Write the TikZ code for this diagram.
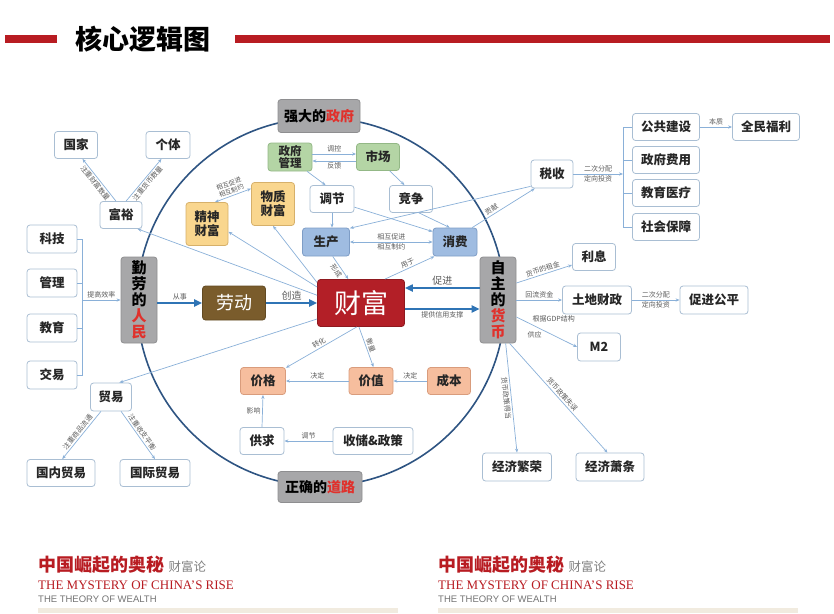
\documentclass[tikz,border=0pt]{standalone}
\usepackage{fontspec}
\setmainfont{Liberation Serif}
\newfontfamily\cjk{Noto Sans CJK SC}
\newfontfamily\lgsans{Liberation Sans}
\usetikzlibrary{arrows.meta,calc}

\definecolor{lgred}{HTML}{B81C22}
\definecolor{lgpink}{HTML}{E0312C}
\definecolor{lgringc}{HTML}{2E5482}
\definecolor{lggrayf}{HTML}{A7A7A9}
\definecolor{lggrayd}{HTML}{8E8E90}
\definecolor{lggreenf}{HTML}{B4D5A5}
\definecolor{lggreend}{HTML}{93B886}
\definecolor{lgbluef}{HTML}{9FBCE1}
\definecolor{lgblued}{HTML}{7E9DC6}
\definecolor{lgyellowf}{HTML}{F9D68E}
\definecolor{lgyellowd}{HTML}{D6B06A}
\definecolor{lgsalmonf}{HTML}{F6BE9E}
\definecolor{lgsalmond}{HTML}{D99C7C}
\definecolor{lgwealth}{HTML}{B31F27}
\definecolor{lgbrown}{HTML}{7A5C2C}
\definecolor{lgedge}{HTML}{A9BED3}
\definecolor{lgthin}{HTML}{8AB0D8}
\definecolor{lgthickc}{HTML}{2F74B5}
\definecolor{lgtextc}{HTML}{5A5A5A}
\definecolor{lgbeige}{HTML}{F1EBDF}

\tikzset{
  lgbox/.style={rounded corners=3pt, line width=0.8pt, align=center, inner sep=1pt,
    font=\cjk\bfseries\fontsize{12.5}{14}\selectfont, text=black!85},
  lgwh/.style 2 args={minimum width=#1, minimum height=#2},
  lgwhite/.style={lgbox, draw=lgedge, fill=white},
  lggray/.style={lgbox, draw=lggrayd, fill=lggrayf, text=black,
    font=\cjk\bfseries\fontsize{14}{16}\selectfont},
  lggreen/.style={lgbox, draw=lggreend, fill=lggreenf},
  lgblue/.style={lgbox, draw=lgblued, fill=lgbluef},
  lgyellow/.style={lgbox, draw=lgyellowd, fill=lgyellowf},
  lgsalmon/.style={lgbox, draw=lgsalmond, fill=lgsalmonf},
  lgring/.style={draw=lgringc, line width=1.6pt},
  lgline/.style={draw=lgthin, line width=0.7pt},
  lgarrow/.style={lgline, -{Stealth[length=4pt,width=3.2pt]}},
  lgthick/.style={draw=lgthickc, line width=2.2pt, -{Triangle[length=8pt,width=7pt]}},
  lgtag/.style={font=\cjk\fontsize{7}{8}\selectfont, text=lgtextc, inner sep=1.5pt},
  lgbig/.style={font=\cjk\fontsize{10}{11}\selectfont, text=lgtextc, inner sep=2pt},
}

\begin{document}
\begin{tikzpicture}[x=1pt,y=-1pt]
\useasboundingbox (0,0) rectangle (834,613);

% header
\fill[lgred] (5,35) rectangle (57,43);
\fill[lgred] (235,35) rectangle (830,43);
\node[font=\cjk\bfseries\fontsize{27}{27}\selectfont] (title) at (143,39) {核心逻辑图};

% ring behind the four pillars
\draw[lgring] (321,302) circle (184);

% pillars
\node[lggray, lgwh={82}{33}] (gov) at (319,116) {强大的\textcolor{lgpink}{政府}};
\node[lggray, lgwh={84}{31}] (road) at (320,487) {正确的\textcolor{lgpink}{道路}};
\node[lggray, lgwh={36}{86}, font=\cjk\bfseries\fontsize{15}{16}\selectfont] (people) at (139,300)
  {勤\\劳\\的\\\textcolor{lgpink}{人}\\\textcolor{lgpink}{民}};
\node[lggray, lgwh={36}{86}, font=\cjk\bfseries\fontsize{15}{16}\selectfont] (money) at (498,300)
  {自\\主\\的\\\textcolor{lgpink}{货}\\\textcolor{lgpink}{币}};

% centre
\node[lgbox, draw=lgwealth!80!black, fill=lgwealth, text=white, lgwh={87}{47},
  font=\cjk\fontsize{27}{27}\selectfont] (wealth) at (361,303) {财富};
\node[lgbox, draw=lgbrown!80!black, fill=lgbrown, text=white, lgwh={63}{34},
  font=\cjk\fontsize{18}{18}\selectfont] (labor) at (234,303) {劳动};

% inside the ring, top
\node[lggreen, lgwh={44}{28}, font=\cjk\bfseries\fontsize{11.5}{12.5}\selectfont] (govm) at (290,157) {政府\\管理};
\node[lggreen, lgwh={43}{27}] (mkt) at (378,157) {市场};
\node[lgwhite, lgwh={44}{27}] (adj) at (332,199) {调节};
\node[lgwhite, lgwh={43}{27}] (comp) at (411,199) {竞争};
\node[lgyellow, lgwh={43}{43}] (mat) at (273,204) {物质\\财富};
\node[lgyellow, lgwh={42}{43}] (spi) at (207,224) {精神\\财富};
\node[lgblue, lgwh={47}{28}] (prod) at (326,242) {生产};
\node[lgblue, lgwh={44}{28}] (cons) at (455,242) {消费};

% inside the ring, bottom
\node[lgsalmon, lgwh={45}{27}] (price) at (263,381) {价格};
\node[lgsalmon, lgwh={44}{27}] (value) at (371,381) {价值};
\node[lgsalmon, lgwh={43}{27}] (cost) at (449,381) {成本};
\node[lgwhite, lgwh={44}{27}] (supply) at (262,441) {供求};
\node[lgwhite, lgwh={80}{27}] (store) at (373,441) {收储\&政策};

% left side
\node[lgwhite, lgwh={50}{28}] (tech) at (52,239) {科技};
\node[lgwhite, lgwh={50}{28}] (mgmt) at (52,283) {管理};
\node[lgwhite, lgwh={50}{28}] (edu) at (52,328) {教育};
\node[lgwhite, lgwh={50}{28}] (trade) at (52,375) {交易};
\node[lgwhite, lgwh={42}{27}] (rich) at (121,215) {富裕};
\node[lgwhite, lgwh={43}{27}] (nation) at (76,145) {国家};
\node[lgwhite, lgwh={44}{27}] (indiv) at (168,145) {个体};
\node[lgwhite, lgwh={41}{28}] (trad) at (111,397) {贸易};
\node[lgwhite, lgwh={68}{27}] (dom) at (61,473) {国内贸易};
\node[lgwhite, lgwh={70}{27}] (intl) at (155,473) {国际贸易};

% right side
\node[lgwhite, lgwh={42}{28}] (tax) at (552,174) {税收};
\node[lgwhite, lgwh={67}{27}] (pub) at (666,127) {公共建设};
\node[lgwhite, lgwh={67}{27}] (govexp) at (666,160) {政府费用};
\node[lgwhite, lgwh={67}{27}] (edumed) at (666,193) {教育医疗};
\node[lgwhite, lgwh={67}{27}] (social) at (666,227) {社会保障};
\node[lgwhite, lgwh={67}{27}] (welfare) at (766,127) {全民福利};
\node[lgwhite, lgwh={43}{27}] (interest) at (594,257) {利息};
\node[lgwhite, lgwh={69}{28}] (land) at (597,300) {土地财政};
\node[lgwhite, lgwh={68}{28}] (fair) at (714,300) {促进公平};
\node[lgwhite, lgwh={43}{28}] (mtwo) at (599,347) {M2};
\node[lgwhite, lgwh={69}{28}] (boom) at (517,467) {经济繁荣};
\node[lgwhite, lgwh={68}{28}] (slump) at (610,467) {经济萧条};

% government and market
\draw[lgarrow] ([yshift=3]govm.east) -- ([yshift=3]govm.east -| mkt.west) node[lgtag, midway, above] {调控};
\draw[lgarrow] ([yshift=-4]mkt.west) -- ([yshift=-4]mkt.west -| govm.east) node[lgtag, midway, below] {反馈};
\draw[lgarrow] (govm.-40) -- (adj.115);
\draw[lgarrow] (mkt.-50) -- (comp.115);
\draw[lgarrow] (adj.south) -- (adj.south |- prod.north);
\draw[lgarrow] (adj.-20) -- (cons.155);
\draw[lgarrow] (comp.-60) -- (cons.110);
\draw[lgarrow, {Stealth[length=4pt,width=3.2pt]}-{Stealth[length=4pt,width=3.2pt]}] (prod.east) -- (cons.west)
  node[lgtag, midway, above] {相互促进} node[lgtag, midway, below] {相互制约};
\draw[lgarrow, {Stealth[length=4pt,width=3.2pt]}-{Stealth[length=4pt,width=3.2pt]}] (spi.70) -- (mat.145)
  node[lgtag, midway, sloped, above, align=center, font=\cjk\fontsize{6.5}{7.5}\selectfont] {相互促进\\相互制约};

% around wealth
\draw[lgarrow] (prod.-65) -- (wealth.118) node[lgtag, midway, sloped, below] {形成};
\draw[lgarrow] (wealth.45) -- (cons.-145) node[lgtag, midway, sloped, above] {用于};
\draw[lgarrow] (wealth.160) -- (spi.-20);
\draw[lgarrow] (wealth.155) -- (mat.south);
\draw[lgarrow] (wealth.170) -- (rich.-40);
\draw[lgarrow] (wealth.200) -- (trad.60);
\draw[lgarrow] (wealth.-100) -- (price.30) node[lgtag, midway, sloped, above] {转化};
\draw[lgarrow] (wealth.-95) -- (value.80) node[lgtag, midway, sloped, above] {衡量};
\draw[lgarrow] (value.west) -- (price.east) node[lgtag, midway, above] {决定};
\draw[lgarrow] (cost.west) -- (value.east) node[lgtag, midway, above] {决定};
\draw[lgarrow] (supply.north) -- (price.south) node[lgtag, midway, left] {影响};
\draw[lgarrow] (store.west) -- (supply.east) node[lgtag, midway, above] {调节};

% thick flow
\draw[lgthick] (people.east |- labor.west) -- (labor.west) node[lgtag, midway, above] {从事};
\draw[lgthick] (labor.east) -- (wealth.west) node[lgbig, midway, above] {创造};
\draw[lgthick] ([yshift=12]money.west) -- ([yshift=12]money.west -| wealth.east) node[lgbig, midway, above] {促进};
\draw[lgthick] ([yshift=-6]wealth.east) -- ([yshift=-6]wealth.east -| money.west) node[lgtag, midway, below] {提供信用支撑};

% left bracket
\coordinate (lbrk) at (82,300);
\draw[lgline] (tech.east) -- (tech.east -| lbrk) -- (trade.east -| lbrk) -- (trade.east);
\draw[lgline] (mgmt.east) -- (mgmt.east -| lbrk);
\draw[lgline] (edu.east) -- (edu.east -| lbrk);
\draw[lgarrow] (lbrk) -- (lbrk -| people.west) node[lgtag, midway, above] {提高效率};

% rich and trade
\draw[lgarrow] (rich.110) -- (nation.-65) node[lgtag, midway, sloped, below] {注重财富数量};
\draw[lgarrow] (rich.70) -- (indiv.-115) node[lgtag, midway, sloped, below] {注重货币数量};
\draw[lgarrow] (trad.-125) -- (dom.85) node[lgtag, midway, sloped, above] {注重商品流通};
\draw[lgarrow] (trad.-55) -- (intl.north) node[lgtag, midway, sloped, above] {注重收支平衡};

% tax
\coordinate (tbrk) at (623,174);
\draw[lgarrow] (tax.east) -- (tbrk) node[lgtag, midway, above] {二次分配} node[lgtag, midway, below] {定向投资};
\draw[lgline] (pub.west) -- (pub.west -| tbrk) -- (social.west -| tbrk) -- (social.west);
\draw[lgline] (govexp.west) -- (govexp.west -| tbrk);
\draw[lgline] (edumed.west) -- (edumed.west -| tbrk);
\draw[lgarrow] (pub.east) -- (welfare.west) node[lgtag, midway, above] {本质};
\draw[lgarrow] (tax.-150) -- (prod.30);
\draw[lgarrow] (cons.40) -- (tax.-140) node[lgtag, pos=0.35, sloped, above] {贡献};

% money outputs
\draw[lgarrow] ([yshift=17]money.east) -- (interest.-160) node[lgtag, midway, sloped, above] {货币的租金};
\draw[lgarrow] (money.east |- land.west) -- (land.west) node[lgtag, midway, above] {回流资金};
\draw[lgarrow] (land.east) -- (fair.west) node[lgtag, midway, above] {二次分配} node[lgtag, midway, below] {定向投资};
\draw[lgarrow] ([yshift=-17]money.east) -- (mtwo.west)
  node[lgtag, pos=0.45, above=7pt, xshift=10pt] {根据GDP结构} node[lgtag, pos=0.3, below=4pt] {供应};
\draw[lgarrow] (money.-80) -- (boom.north) node[lgtag, midway, sloped, below] {货币政策得当};
\draw[lgarrow] (money.-75) -- (slump.100) node[lgtag, midway, sloped, above] {货币政策失误};

% footer, twice
\foreach \ox in {0,400} {
  \node[anchor=west, inner sep=0pt, font=\cjk\bfseries\fontsize{18}{18}\selectfont, text=lgred] (ftitle\ox) at (38+\ox,565) {中国崛起的奥秘};
  \node[anchor=base west, inner sep=0pt, xshift=4pt, font=\cjk\fontsize{12.5}{12.5}\selectfont, text=black!50] at (ftitle\ox.base east) {财富论};
  \node[anchor=west, inner sep=0pt, font=\fontsize{13}{13}\selectfont, text=lgred] at (38+\ox,585) {THE MYSTERY OF CHINA'S RISE};
  \node[anchor=west, inner sep=0pt, font=\lgsans\fontsize{9.5}{10}\selectfont, text=black!55] at (38+\ox,599) {THE THEORY OF WEALTH};
  \fill[lgbeige] (38+\ox,608) rectangle (398+\ox,613);
}
\end{tikzpicture}
\end{document}
